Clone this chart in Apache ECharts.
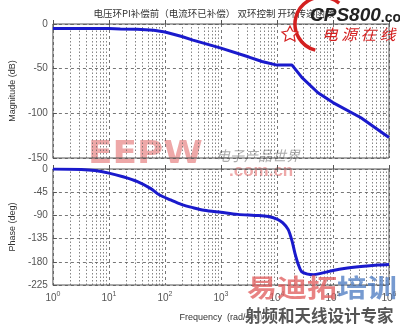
<!DOCTYPE html>
<html><head><meta charset="utf-8">
<script src="https://cdn.jsdelivr.net/npm/echarts@6/dist/echarts.min.js"></script>
<style>html,body{margin:0;padding:0;background:#fff}#c{width:400px;height:325px}</style>
</head><body><div id="c"></div>
<script>
const chartTitle = '电压环PI补偿前（电流环已补偿） 双环控制 开环传递函数';
const magFreq = [1, 10, 16, 32, 63, 100, 200, 316, 1000, 3160, 5400, 10000, 18600, 28000, 54000, 100000, 316000, 1000000];
const magDb   = [-5, -5, -5.5, -6, -7, -9, -14, -18, -27, -37, -42, -46, -46, -60, -77, -88, -105, -127];
const phaseFreq = [1, 3.2, 5.6, 10, 17.8, 31.6, 56, 79, 126, 200, 316, 500, 1000, 2000, 4000, 7000, 10000, 12600, 15800, 18600, 20900, 24000, 27500, 35500, 44700, 63000, 100000, 158000, 316000, 631000, 1000000];
const phaseDeg  = [0, -1, -3, -8, -15, -24, -38, -50, -60, -69, -75, -80, -84, -88, -90, -92, -97, -104, -117, -140, -163, -185, -199, -204, -205, -202, -197, -193, -189, -186, -185];
const xTickExp = ['0', '1', '2', '3', '4', '5', '6'];
const magTicks = [0, -50, -100, -150];
const phaseTicks = [0, -45, -90, -135, -180, -225];
const minorMantissa = [2, 3, 4, 5, 6, 7, 8, 9];
const decades = [1, 10, 100, 1000, 10000, 100000];

const minorLines = [];
decades.forEach(d => minorMantissa.forEach(m => minorLines.push({ xAxis: m * d })));

const FONT = 'Liberation Sans';
const gridLine = { color: '#555', width: 0.8, type: [3, 3] };

function xAxisCfg(idx, showLabels) {
  return {
    type: 'log', logBase: 10, min: 1, max: 1000000, splitNumber: 6, gridIndex: idx,
    axisLine: { show: false },
    axisTick: { show: true, inside: true, length: 4, lineStyle: { color: '#555' } },
    splitLine: { show: true, lineStyle: gridLine },
    axisLabel: showLabels ? {
      show: true, margin: 6, color: '#555', fontFamily: FONT, fontSize: 10,
      formatter: v => { const e = xTickExp[Math.round(Math.log10(v))]; return '10{sup|' + e + '}'; },
      rich: { sup: { fontSize: 7, verticalAlign: 'bottom', padding: [0, 0, 8, 0], color: '#555', fontFamily: FONT } }
    } : { show: false },
    name: showLabels ? 'Frequency  (rad/sec)' : '',
    nameLocation: 'middle', nameGap: 28,
    nameTextStyle: { fontFamily: FONT, fontSize: 9, color: '#333' }
  };
}
function yAxisCfg(idx, ticks, name) {
  return {
    type: 'value', gridIndex: idx, min: ticks[ticks.length - 1], max: ticks[0],
    interval: ticks[0] - ticks[1],
    axisLine: { show: false },
    axisTick: { show: true, inside: true, length: 4, lineStyle: { color: '#555' } },
    splitLine: { show: true, lineStyle: gridLine },
    axisLabel: { color: '#555', fontFamily: FONT, fontSize: 10, margin: 5 },
    name: name, nameLocation: 'middle', nameGap: 22, nameRotate: 90,
    nameTextStyle: { fontFamily: FONT, fontSize: 9, color: '#333' }
  };
}
const markMinor = {
  silent: true, symbol: 'none', label: { show: false },
  lineStyle: { color: '#666', width: 0.8, type: [1.5, 2] },
  data: minorLines, animation: false
};

const chart = echarts.init(document.getElementById('c'), null, { renderer: 'canvas' });
chart.setOption({
  animation: false,
  backgroundColor: '#fff',
  grid: [
    { left: 48, top: 24, width: 341, height: 134, show: true, borderColor: '#555', borderWidth: 1, backgroundColor: 'transparent' },
    { left: 48, top: 169, width: 341, height: 116, show: true, borderColor: '#555', borderWidth: 1, backgroundColor: 'transparent' }
  ],
  xAxis: [xAxisCfg(0, false), xAxisCfg(1, true)],
  yAxis: [yAxisCfg(0, magTicks, 'Magnitude (dB)'), yAxisCfg(1, phaseTicks, 'Phase (deg)')],
  series: [
    { type: 'line', xAxisIndex: 0, yAxisIndex: 0, showSymbol: false, smooth: false, z: 5,
      lineStyle: { color: '#1a1acc', width: 3 },
      data: magFreq.map((f, i) => [f, magDb[i]]), markLine: markMinor },
    { type: 'line', xAxisIndex: 1, yAxisIndex: 1, showSymbol: false, smooth: 0.3, z: 5,
      lineStyle: { color: '#1a1acc', width: 3 },
      data: phaseFreq.map((f, i) => [f, phaseDeg[i]]), markLine: markMinor }
  ],
  graphic: [
    { type: 'text', x: 214, y: 13, z: 10, style: { text: chartTitle, fontFamily: 'Noto Sans CJK SC', fontSize: 9.5, fill: '#333', align: 'center', verticalAlign: 'middle' } },
    // EEPW watermark
    { type: 'text', x: 88, y: 155, scaleX: 1.12, z: -10, style: { text: 'EEPW', fontFamily: 'DejaVu Sans', fontWeight: 'bold', fontSize: 32, fill: 'rgba(226,110,110,0.6)', verticalAlign: 'middle' } },
    { type: 'text', x: 216, y: 156, z: -10, style: { text: '电子产品世界', fontFamily: 'Noto Sans CJK SC', fontStyle: 'italic', fontSize: 14, fill: 'rgba(150,150,150,0.8)', verticalAlign: 'middle' } },
    { type: 'text', x: 229, y: 171, z: -10, style: { text: '.com.cn', fontFamily: FONT, fontWeight: 'bold', fontSize: 17, fill: 'rgba(226,110,110,0.6)', verticalAlign: 'middle' } },
    // CPS800 logo
    { type: 'arc', z: 12, shape: { cx: 322, cy: 24, r: 27, startAngle: Math.PI * 0.58, endAngle: Math.PI * 1.72, clockwise: true }, style: { stroke: '#d42020', lineWidth: 3.5, fill: null } },
    { type: 'polygon', z: 12, shape: { points: [[290, 26], [292.5, 31], [298, 32], [294, 35.5], [295, 41], [290, 38.5], [285, 41], [286, 35.5], [282, 32], [287.5, 31]] }, style: { stroke: '#d42020', lineWidth: 1.2, fill: 'rgba(255,255,255,0.6)' } },
    { type: 'text', x: 310, y: 16, z: 13, style: { text: '{a|CPS800}{b|.com}', fontFamily: FONT, rich: { a: { fontSize: 19, fontWeight: 'bold', fontStyle: 'italic', fill: '#222', fontFamily: FONT }, b: { fontSize: 14, fontWeight: 'bold', fill: '#222', fontFamily: FONT, padding: [4, 0, 0, 0] } }, verticalAlign: 'middle' } },
    { type: 'text', x: 322, y: 34, z: 13, scaleX: 1.05, style: { text: '电 源 在 线', fontFamily: 'Noto Sans CJK SC', fontStyle: 'italic', fontSize: 15, fill: '#d42020', verticalAlign: 'middle' } },
    // 易迪拓培训 watermark
    { type: 'text', x: 247, y: 287, z: 12, scaleY: 0.85, style: { text: '{r|易迪拓}{b|培训}', fontFamily: 'Noto Sans CJK SC', rich: { r: { fontSize: 30, fontWeight: 'bold', fill: 'rgba(225,95,95,0.78)', fontFamily: 'Noto Sans CJK SC' }, b: { fontSize: 30, fontWeight: 'bold', fill: 'rgba(80,125,195,0.78)', fontFamily: 'Noto Sans CJK SC' } }, verticalAlign: 'middle' } },
    { type: 'text', x: 245, y: 316, z: 13, style: { text: '射频和天线设计专家', fontFamily: 'Noto Sans CJK SC', fontWeight: 'bold', fontSize: 16.5, fill: '#555', verticalAlign: 'middle', backgroundColor: 'rgba(255,255,255,0.5)' } }
  ]
});
</script></body></html>
